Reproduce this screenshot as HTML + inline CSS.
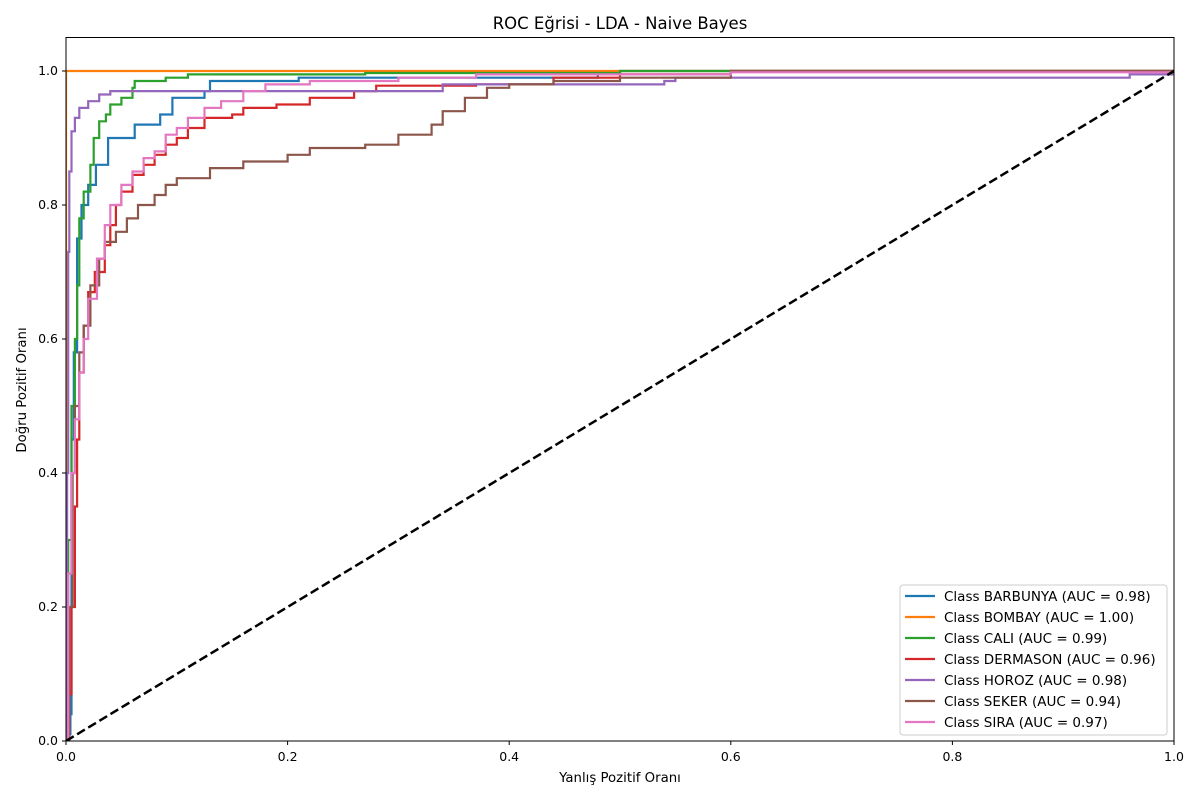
<!DOCTYPE html>
<html><head><meta charset="utf-8"><style>
body{margin:0;background:#fff;font-family:"Liberation Sans","DejaVu Sans",sans-serif}
svg text{font-family:"DejaVu Sans","Liberation Sans",sans-serif;fill:#000}
</style></head><body>
<svg id="chart" width="1200" height="800"></svg>
<script>
const classNames=["BARBUNYA","BOMBAY","CALI","DERMASON","HOROZ","SEKER","SIRA"];
const aucValues=["0.98","1.00","0.99","0.96","0.98","0.94","0.97"];
const colors=["#1f77b4","#ff7f0e","#2ca02c","#d62728","#9467bd","#8c564b","#e377c2"];
const xTicks=[0,0.2,0.4,0.6,0.8,1.0];
const yTicks=[0,0.2,0.4,0.6,0.8,1.0];
const fprBarbunya=[0,0.002,0.004,0.005,0.007,0.01,0.014,0.02,0.027,0.038,0.052,0.062,0.085,0.096,0.125,0.13,0.2,0.21,0.48,0.5,1];
const tprBarbunya=[0,0.01,0.04,0.45,0.58,0.75,0.8,0.83,0.86,0.9,0.9,0.92,0.935,0.96,0.97,0.985,0.985,0.99,0.995,1,1];
const fprBombay=[0,0,1];
const tprBombay=[0,1,1];
const fprCali=[0,0.002,0.005,0.008,0.01,0.012,0.016,0.022,0.025,0.03,0.036,0.04,0.05,0.06,0.062,0.09,0.11,0.27,0.5,1];
const tprCali=[0,0.3,0.5,0.6,0.68,0.78,0.82,0.86,0.9,0.925,0.935,0.95,0.96,0.975,0.985,0.99,0.995,0.997,1,1];
const fprDermason=[0,0.003,0.005,0.008,0.01,0.012,0.016,0.02,0.026,0.035,0.04,0.045,0.05,0.06,0.07,0.08,0.09,0.1,0.11,0.125,0.15,0.16,0.19,0.22,0.26,0.28,0.37,0.44,0.5,0.6,1];
const tprDermason=[0,0.07,0.2,0.35,0.45,0.55,0.62,0.67,0.7,0.74,0.77,0.8,0.82,0.845,0.86,0.875,0.89,0.9,0.915,0.93,0.935,0.945,0.95,0.96,0.97,0.978,0.98,0.99,0.995,1,1];
const fprHoroz=[0,0.001,0.002,0.003,0.005,0.008,0.012,0.02,0.03,0.04,0.34,0.34,0.54,0.55,0.96,1];
const tprHoroz=[0,0.4,0.73,0.85,0.91,0.93,0.945,0.955,0.965,0.97,0.97,0.98,0.985,0.99,0.995,1];
const fprSeker=[0,0.003,0.006,0.008,0.012,0.016,0.022,0.03,0.035,0.045,0.055,0.065,0.08,0.09,0.1,0.13,0.16,0.2,0.22,0.27,0.3,0.33,0.34,0.36,0.38,0.4,0.44,0.5,0.6,1];
const tprSeker=[0,0.2,0.4,0.5,0.58,0.62,0.68,0.72,0.745,0.76,0.78,0.8,0.815,0.83,0.84,0.855,0.865,0.875,0.885,0.89,0.905,0.92,0.94,0.96,0.975,0.98,0.985,0.99,1,1];
const fprSira=[0,0.002,0.005,0.008,0.012,0.016,0.02,0.028,0.035,0.04,0.05,0.06,0.07,0.08,0.09,0.1,0.11,0.125,0.14,0.16,0.18,0.22,0.3,0.37,0.6,1];
const tprSira=[0,0.25,0.4,0.48,0.55,0.6,0.66,0.72,0.77,0.8,0.83,0.85,0.87,0.88,0.905,0.915,0.93,0.945,0.955,0.97,0.98,0.985,0.99,0.995,0.998,1];
const fprs=[fprBarbunya,fprBombay,fprCali,fprDermason,fprHoroz,fprSeker,fprSira];
const tprs=[tprBarbunya,tprBombay,tprCali,tprDermason,tprHoroz,tprSeker,tprSira];

const L=66,R=1174,T=37.5,B=741;
const sx=v=>L+v*(R-L);
const sy=v=>B-v/1.05*(B-T);
const NS="http://www.w3.org/2000/svg";
const svg=document.getElementById('chart');
function mk(tag,attrs,parent){const e=document.createElementNS(NS,tag);for(const k in attrs)e.setAttribute(k,attrs[k]);(parent||svg).appendChild(e);return e;}

const clip=mk('clipPath',{id:'pc'});mk('rect',{x:L,y:T,width:R-L,height:B-T},clip);
const plot=mk('g',{'clip-path':'url(#pc)'});



for(let s=0;s<classNames.length;s++){
  const f=fprs[s],t=tprs[s];let pts=[];
  for(let i=0;i<f.length;i++){
    if(i>0)pts.push(sx(f[i]).toFixed(1)+','+sy(t[i-1]).toFixed(1));
    pts.push(sx(f[i]).toFixed(1)+','+sy(t[i]).toFixed(1));
  }
  const pl=mk('polyline',{points:pts.join(' '),fill:'none',stroke:colors[s],'stroke-width':2.2},plot);
  
  
}
const diag=mk('line',{x1:sx(0),y1:sy(0),x2:sx(1),y2:sy(1),stroke:'#000','stroke-width':2.5,'stroke-dasharray':'9,4'},plot);



const frame=mk('rect',{x:L,y:T,width:R-L,height:B-T,fill:'none',stroke:'#000','stroke-width':1});



xTicks.forEach(v=>{
  mk('line',{x1:sx(v),x2:sx(v),y1:B,y2:B+4,stroke:'#000'});
  const t=mk('text',{x:sx(v),y:B+20,'text-anchor':'middle','font-size':12.5});t.textContent=v.toFixed(1);
  
  
});
yTicks.forEach(v=>{
  mk('line',{x1:L-4,x2:L,y1:sy(v),y2:sy(v),stroke:'#000'});
  const t=mk('text',{x:L-8,y:sy(v)+4,'text-anchor':'end','font-size':12.5});t.textContent=v.toFixed(1);
  
  
});
let t=mk('text',{x:620,y:29,'text-anchor':'middle','font-size':16.5});t.textContent='ROC Eğrisi - LDA - Naive Bayes';


t=mk('text',{x:620,y:782,'text-anchor':'middle','font-size':13.3});t.textContent='Yanlış Pozitif Oranı';


t=mk('text',{x:26,y:390,'text-anchor':'middle','font-size':13.3,transform:'rotate(-90 26 390)'});t.textContent='Doğru Pozitif Oranı';



const lg=mk('g',{});


mk('rect',{x:900,y:585,width:267,height:150,rx:3,fill:'#fff',stroke:'#ccc'},lg);
classNames.forEach((n,i)=>{
  const y=596+i*21;
  const g=mk('g',{},lg);
  
  
  mk('line',{x1:905,x2:935,y1:y,y2:y,stroke:colors[i],'stroke-width':2.2},g);
  const tx=mk('text',{x:944,y:y+5,'font-size':13.5},g);tx.textContent='Class '+n+' (AUC = '+aucValues[i]+')';
});
</script>
</body></html>
